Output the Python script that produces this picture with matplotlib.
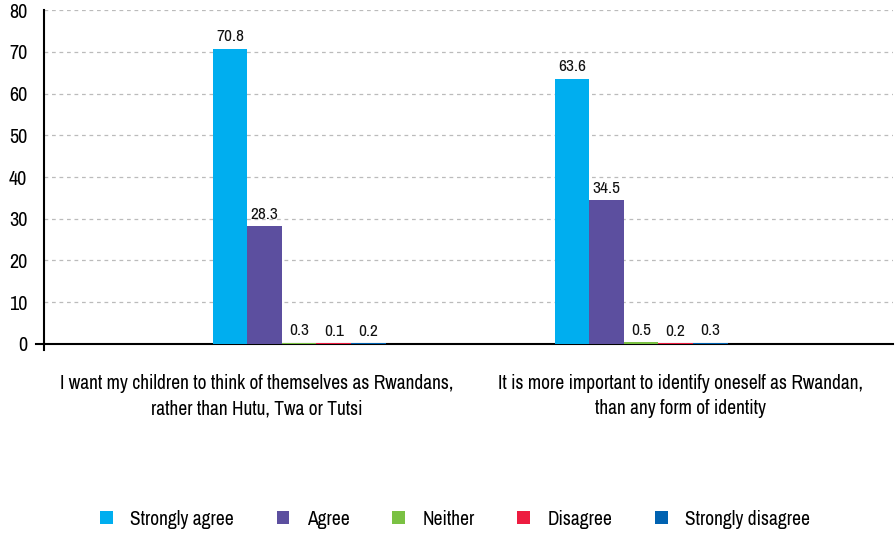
import numpy as np
import matplotlib
matplotlib.use('Agg')
import matplotlib.pyplot as plt
from matplotlib.patches import Patch

plt.rcParams['font.family'] = ['Archivo Narrow', 'DejaVu Sans']

# Survey responses (%)
statements = ['I want my children to think of themselves as Rwandans,\nrather than Hutu, Twa or Tutsi',
              'It is more important to identify oneself as Rwandan,\nthan any form of identity']
responses = ['Strongly agree', 'Agree', 'Neither', 'Disagree', 'Strongly disagree']
strongly_agree = [70.8, 63.6]
agree = [28.3, 34.5]
neither = [0.3, 0.5]
disagree = [0.1, 0.2]
strongly_disagree = [0.2, 0.3]

colors = ['#00AEEF', '#5C4F9F', '#7AC143', '#ED1C40', '#0062B1']
series = [strongly_agree, agree, neither, disagree, strongly_disagree]

fig = plt.figure(figsize=(8.96, 5.34), dpi=100)
ax = fig.add_axes([0.049, 0.356, 0.948, 0.625])

x = np.arange(len(statements))
# bar clusters are drawn closer together than the category labels
group_centres = np.array([0.101, 0.906])
width = 0.0815
for i, (vals, c) in enumerate(zip(series, colors)):
    pos = group_centres + (i - 2) * width
    bars = ax.bar(pos, vals, width, color=c, zorder=3)
    for b, v in zip(bars, vals):
        ax.annotate(f'{v}', (b.get_x() + b.get_width() / 2, v),
                    xytext=(0, 3), textcoords='offset points',
                    ha='center', va='bottom', fontsize=12.5, color='#111111')

ax.set_xlim(-0.5, 1.5)
ax.set_ylim(0, 80)
ax.set_yticks(range(0, 81, 10))
ax.tick_params(axis='y', length=0, labelsize=14.5, pad=12)
ax.set_xticks(x)
ax.set_xticklabels(statements, fontsize=14, linespacing=1.4)
ax.tick_params(axis='x', length=0, pad=22)
ax.yaxis.grid(True, linestyle=(0, (3, 3)), color='#BBBBBB', linewidth=0.9, zorder=0)
for s in ['top', 'right']:
    ax.spines[s].set_visible(False)
ax.spines['left'].set_linewidth(1.5)
ax.spines['bottom'].set_linewidth(1.5)
# short outward stubs where the two axes meet
ax.plot([-0.009, 0], [0, 0], transform=ax.transAxes, color='black', lw=1.5, clip_on=False)
ax.plot([0, 0], [-0.018, 0], transform=ax.transAxes, color='black', lw=1.5, clip_on=False)

handles = [Patch(facecolor=c, label=r) for c, r in zip(colors, responses)]
fig.legend(handles=handles, loc='center', bbox_to_anchor=(0.508, 0.028), ncol=5,
           frameon=False, fontsize=14, handlelength=0.65, handleheight=0.65,
           columnspacing=2.2, handletextpad=0.9)

fig.savefig('out.png', dpi=100)
